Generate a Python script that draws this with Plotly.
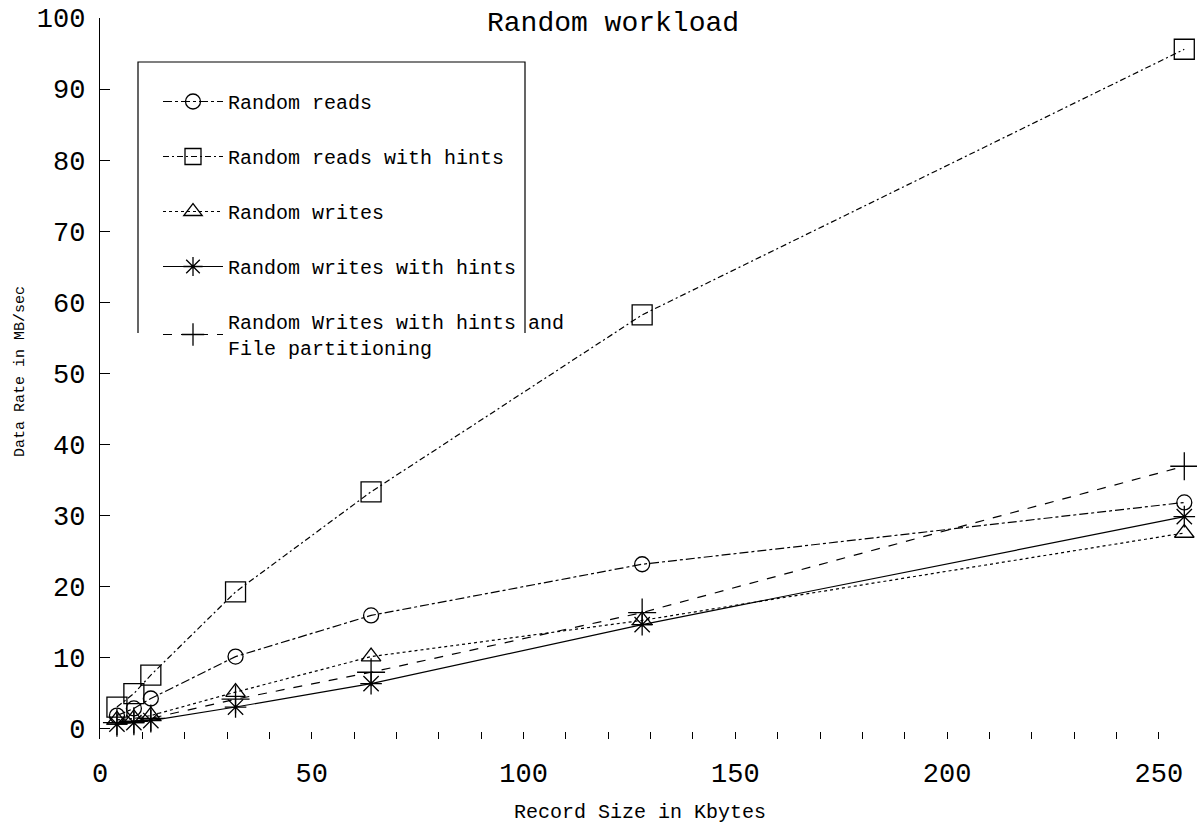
import plotly.graph_objects as go

record_size = [4, 8, 12, 32, 64, 128, 256]

random_reads = [1.8, 2.8, 4.2, 10.1, 15.9, 23.1, 31.8]
random_reads_hints = [3.0, 4.9, 7.5, 19.2, 33.3, 58.2, 95.6]
random_writes = [1.2, 1.4, 1.8, 5.1, 10.1, 15.2, 27.5]
random_writes_hints = [0.6, 0.8, 1.1, 3.0, 6.3, 14.6, 29.8]
random_writes_part = [0.8, 1.0, 1.4, 4.1, 7.9, 16.3, 36.9]

series_names = [
    "Random reads",
    "Random reads with hints",
    "Random writes",
    "Random writes with hints",
    "Random Writes with hints and<br>File partitioning",
]

FONT = "Liberation Mono, Courier New, monospace"

styles = [
    dict(symbol="circle-open", size=15, dash="dashdot"),
    dict(symbol="square-open", size=20, dash="6px,3px,2px,3px"),
    dict(symbol="triangle-up-open", size=17, dash="dot"),
    dict(symbol="asterisk-open", size=18, dash="solid"),
    dict(symbol="cross-thin-open", size=20, dash="dash"),
]
data = [random_reads, random_reads_hints, random_writes, random_writes_hints, random_writes_part]

fig = go.Figure()
for i, (name, ys, st) in enumerate(zip(series_names, data, styles)):
    fig.add_trace(go.Scatter(
        x=record_size, y=ys, name=name, mode="lines+markers",
        legendgroup=f"g{i}", cliponaxis=False,
        line=dict(color="black", width=1.2, dash=st["dash"]),
        marker=dict(symbol=st["symbol"], size=st["size"], color="black",
                    line=dict(color="black", width=1.3)),
    ))

# plot area on screen: x 100..1197 px, y 18..739 px
def px_x(p):
    return (p - 100) / 1097.0

def px_y(p):
    return (739 - p) / 721.0

bx0, bx1, by0, by1 = px_x(138), px_x(525), px_y(333), px_y(62)

fig.update_layout(
    width=1197, height=826,
    paper_bgcolor="white", plot_bgcolor="white",
    margin=dict(l=100, r=0, t=18, b=87, autoexpand=False),
    font=dict(family=FONT, color="black"),
    showlegend=True,
    legend=dict(
        x=px_x(158), y=px_y(82), xanchor="left", yanchor="top",
        borderwidth=0, bgcolor="rgba(0,0,0,0)",
        font=dict(family=FONT, size=20, color="black"),
        tracegroupgap=26,
        itemwidth=60,
    ),
    xaxis=dict(
        range=[0, 259], tickmode="linear", tick0=0, dtick=50,
        showgrid=False, zeroline=False, showline=False, automargin=False,
        ticks="inside", ticklen=7, tickwidth=1.2, tickcolor="black",
        minor=dict(dtick=10, tick0=0, ticks="inside", ticklen=7, tickwidth=1.2, tickcolor="black", showgrid=False),
        tickfont=dict(family=FONT, size=27, color="black"),
        ticklabelstandoff=15,
    ),
    yaxis=dict(
        range=[-1.5, 100], tickmode="linear", tick0=0, dtick=10,
        showgrid=False, zeroline=False, showline=True, linecolor="black", linewidth=1.3,
        automargin=False,
        ticks="inside", ticklen=10, tickwidth=1.2, tickcolor="black",
        tickfont=dict(family=FONT, size=27, color="black"),
        ticklabelstandoff=8,
    ),
    shapes=[dict(
        type="path", xref="paper", yref="paper",
        path=f"M {bx0} {by0} L {bx0} {by1} L {bx1} {by1} L {bx1} {by0}",
        line=dict(color="black", width=1.2),
    )],
    annotations=[
        dict(text="Random workload", x=px_x(613), y=px_y(23), xref="paper", yref="paper",
             xanchor="center", yanchor="middle", showarrow=False,
             font=dict(family=FONT, size=28, color="black")),
        dict(text="Record Size in Kbytes", x=px_x(640), y=px_y(812), xref="paper", yref="paper",
             xanchor="center", yanchor="middle", showarrow=False,
             font=dict(family=FONT, size=20, color="black")),
        dict(text="Data Rate in MB/sec", x=px_x(20), y=px_y(372), xref="paper", yref="paper",
             xanchor="center", yanchor="middle", showarrow=False, textangle=-90,
             font=dict(family=FONT, size=15, color="black")),
    ],
)

fig.write_html("out.html", config={"displayModeBar": False},
               post_script="document.body.style.margin='0px';")
